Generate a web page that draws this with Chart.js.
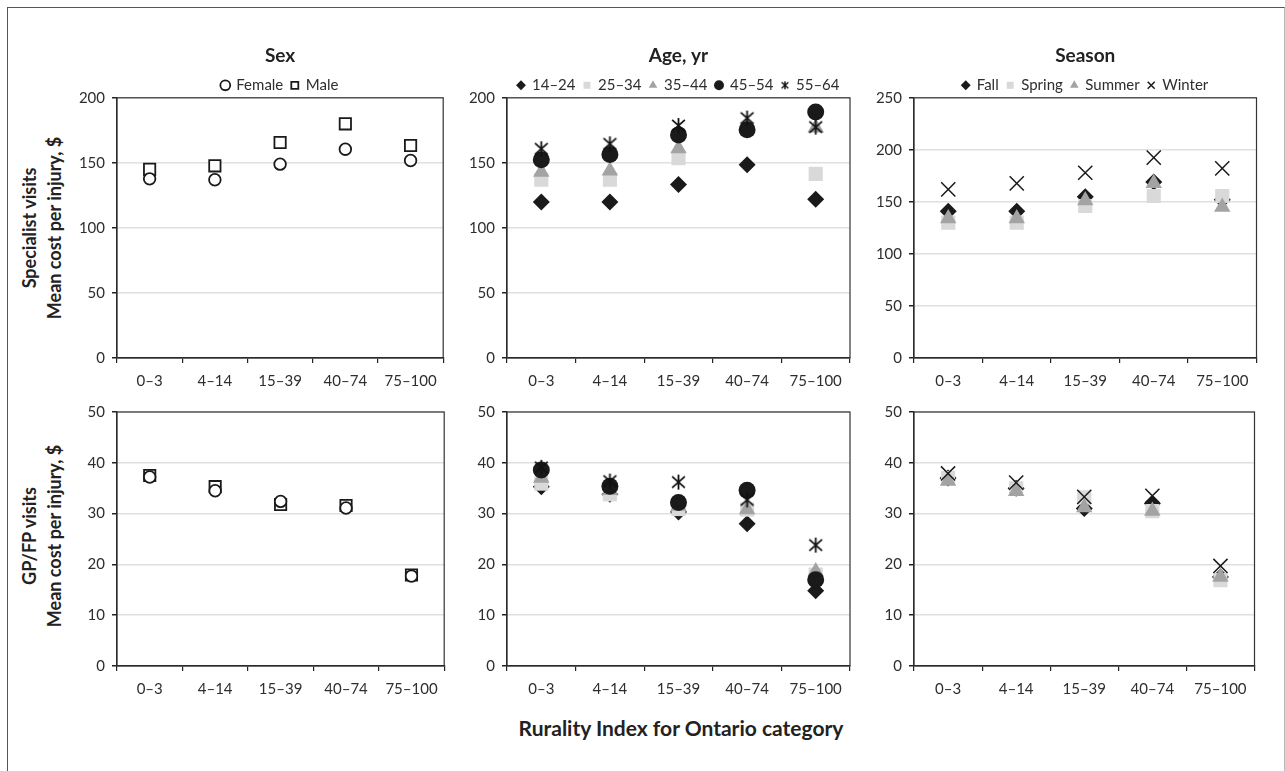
<!DOCTYPE html>
<html><head><meta charset="utf-8">
<script src="https://cdn.jsdelivr.net/npm/chart.js@4.4.0/dist/chart.umd.min.js"></script>
<style>
body{margin:0;background:#fff;width:1285px;height:771px;overflow:hidden;position:relative;font-family:Lato,"Open Sans",sans-serif;}
.frame{position:absolute;left:7px;top:7px;width:1276px;height:800px;border-left:1px solid #555;border-top:1px solid #555;border-right:1px solid #bbb;}
canvas{position:absolute;}
.rowlab{position:absolute;transform:translate(-50%,-50%) rotate(-90deg);white-space:nowrap;font-weight:bold;font-size:18px;color:#222;text-align:center;line-height:25px;}
.xtitle{position:absolute;transform:translate(-50%,-50%);white-space:nowrap;font-weight:bold;font-size:21px;color:#222;}
</style></head>
<body>
<div class="frame"></div>
<div class="rowlab" style="left:42px;top:228px">Specialist visits<br>Mean cost per injury, $</div>
<div class="rowlab" style="left:42px;top:536px">GP/FP visits<br>Mean cost per injury, $</div>
<div class="xtitle" style="left:681px;top:727px">Rurality Index for Ontario category</div>
<script>
// ---------- DATA ----------
const categories = ['0–3','4–14','15–39','40–74','75–100'];
const panelTitles = ['Sex','Age, yr','Season'];
const sexLabels = ['Female','Male'];
const ageLabels = ['14–24','25–34','35–44','45–54','55–64'];
const seasonLabels = ['Fall','Spring','Summer','Winter'];

// Specialist visits, mean cost per injury ($)
const specFemale = [137.7, 137, 149, 160.5, 151.8];
const specMale   = [145, 147.7, 165.6, 180, 163.3];
const specAge1424 = [120, 120, 133.3, 148.5, 122];
const specAge2534 = [137, 137, 153.6, 176, 141.5];
const specAge3544 = [143, 144, 161, 178, 177];
const specAge4554 = [152.3, 156.4, 171.5, 175.4, 189];
const specAge5564 = [160.8, 164.6, 178.7, 184.4, 177.5];
const specFall   = [141, 141, 155, 169, 152];
const specSpring = [130, 130, 146, 155.6, 155.6];
const specSummer = [134, 134, 151.4, 167.8, 145];
const specWinter = [162, 167.8, 178, 192.5, 182.2];

// GP/FP visits, mean cost per injury ($)
const gpFemale = [37.2, 34.5, 32.4, 31.1, 17.7];
const gpMale   = [37.5, 35.3, 31.8, 31.6, 17.9];
const gpAge1424 = [35.3, 33.8, 30.3, 28, 14.8];
const gpAge2534 = [35.9, 33.8, 30.9, 30.8, 18];
const gpAge3544 = [37, 34.6, 31.5, 30.8, 18.6];
const gpAge4554 = [38.6, 35.4, 32.2, 34.6, 17];
const gpAge5564 = [39.1, 36.4, 36.2, 32.7, 23.8];
const gpFall   = [37, 35, 31, 32, 17.5];
const gpSpring = [37, 35, 33.2, 30.5, 16.9];
const gpSummer = [36.4, 34.4, 31.2, 30.5, 17.5];
const gpWinter = [37.9, 36.1, 33.3, 33.5, 19.7];

// y-axis ranges [max, step]
const specAxes = [[200,50],[200,50],[250,50]];
const gpAxes = [[50,10],[50,10],[50,10]];

// ---------- STYLE ----------
const BLACK='#1a1a1a', LIGHT='#d9d9d9', MID='#a3a3a3', TXT='#2e2e2e';
const FONT='Lato, "Open Sans", sans-serif';

function starCanvas(size, lw){
  const c=document.createElement('canvas'); c.width=size; c.height=size;
  const g=c.getContext('2d'); g.strokeStyle='#111'; g.lineWidth=lw; g.lineCap='butt';
  const h=size/2, r=h-1;
  g.beginPath();
  g.moveTo(h-r*0.85,h-r*0.75); g.lineTo(h+r*0.85,h+r*0.75);
  g.moveTo(h+r*0.85,h-r*0.75); g.lineTo(h-r*0.85,h+r*0.75);
  g.moveTo(h,h-r); g.lineTo(h,h+r);
  g.stroke();
  return c;
}
const starBig = starCanvas(17,1.8), starSmall = starCanvas(10,1.4);

const sexStyles = [
  {ps:'circle', r:5.8, bg:'#fff', bc:BLACK, bw:1.8},
  {ps:'rect', r:8, bg:'#fff', bc:BLACK, bw:1.8}
];
const ageStyles = [
  {ps:'rectRot', r:8.5, bg:BLACK, bc:BLACK, bw:0},
  {ps:'rect', r:10, bg:LIGHT, bc:LIGHT, bw:0},
  {ps:'triangle', r:9.5, bg:MID, bc:MID, bw:0},
  {ps:'circle', r:8.5, bg:BLACK, bc:BLACK, bw:0},
  {ps:starBig, r:8, bg:BLACK, bc:BLACK, bw:1.8, legend:starSmall}
];
const seasonStyles = [
  {ps:'rectRot', r:8.5, bg:BLACK, bc:BLACK, bw:0},
  {ps:'rect', r:10, bg:LIGHT, bc:LIGHT, bw:0},
  {ps:'triangle', r:9.5, bg:MID, bc:MID, bw:0},
  {ps:'crossRot', r:10, bg:BLACK, bc:BLACK, bw:1.5}
];

// trim legend box height a little
const LegendEl = Chart.registry.getPlugin('legend')._element;
if (LegendEl){ const f=LegendEl.prototype.fit; LegendEl.prototype.fit=function(){ f.call(this); if(this.height>0) this.height=Math.max(0,this.height-5); }; }

const boxPlugin = { id:'plotbox', afterDraw(chart){ const {ctx, chartArea:a}=chart; ctx.save(); ctx.strokeStyle='#333'; ctx.lineWidth=1.2; ctx.strokeRect(a.left,a.top,a.right-a.left,a.bottom-a.top); ctx.restore(); } };

function buildDatasets(labels, arrays, styles, laterOnTop){
  return labels.map((lab,i)=>{
    const s=styles[i];
    return {
      label: lab, data: arrays[i], showLine:false,
      pointStyle: s.ps, pointRadius: s.r, pointHoverRadius: s.r,
      pointBackgroundColor: s.bg, pointBorderColor: s.bc, pointBorderWidth: s.bw,
      backgroundColor: s.bg, borderColor: s.bc, borderWidth: s.bw,
      order: laterOnTop ? labels.length - i : i,
      legendStyle: s.legend
    };
  });
}

function makePanel(o){
  const cv=document.createElement('canvas');
  const yw=45, xh=40, padTop = o.top ? 0 : 10;
  const w = yw + o.plotW + 3;
  const h = (o.top ? 54 : 10) + 260 + xh;
  cv.width=w; cv.height=h;
  cv.style.left=(o.plotLeft-yw)+'px'; cv.style.top=(o.top ? 44 : 396)+'px';
  cv.style.width=w+'px'; cv.style.height=h+'px';
  document.body.appendChild(cv);
  new Chart(cv.getContext('2d'), {
    type:'line',
    data:{ labels: categories, datasets: o.datasets },
    options:{
      responsive:false, animation:false, devicePixelRatio:1,
      layout:{ padding:{ top:padTop, left:0, right:3, bottom:0 } },
      plugins:{
        tooltip:{enabled:false},
        title:{ display: !!o.top, text: o.title, fullSize:false, color:'#222',
          font:{family:FONT, size:19, weight:'bold'}, padding:{top:0,bottom:3} },
        legend:{ display: !!o.top, fullSize:false, position:'top', align:'center',
          labels:{ usePointStyle:true, boxWidth:7, boxHeight:7, padding:8, color:TXT,
            font:{family:FONT, size:15},
            generateLabels(chart){
              const items = Chart.defaults.plugins.legend.labels.generateLabels(chart);
              items.sort((a,b)=>a.datasetIndex-b.datasetIndex);
              items.forEach(it=>{ const ds=chart.data.datasets[it.datasetIndex]; if(ds.legendStyle) it.pointStyle=ds.legendStyle; });
              return items;
            } } }
      },
      scales:{
        x:{ type:'category', offset:true,
          grid:{ offset:true, drawOnChartArea:false, drawTicks:true, tickLength:5, tickColor:'#222', lineWidth:1.2 },
          border:{ color:'#222', width:1.2 },
          ticks:{ color:TXT, font:{family:FONT, size:15}, padding:9, maxRotation:0, autoSkip:false },
          afterFit(s){ s.height=xh; } },
        y:{ min:0, max:o.ymax,
          grid:{ color:'#e0e0e0', lineWidth:1.5, drawTicks:true, tickLength:5, tickColor:'#222' },
          border:{ color:'#222', width:1.2 },
          ticks:{ stepSize:o.ystep, color:TXT, font:{family:FONT, size:15}, padding:7 },
          afterFit(s){ s.width=yw; } }
      }
    },
    plugins:[boxPlugin]
  });
}

const plotLefts=[117,507,914];
const plotWidthsTop=[333,350,351];
const plotWidthsBot=[334,350,349];

const topSets=[
  buildDatasets(sexLabels,[specFemale,specMale],sexStyles,false),
  buildDatasets(ageLabels,[specAge1424,specAge2534,specAge3544,specAge4554,specAge5564],ageStyles,true),
  buildDatasets(seasonLabels,[specFall,specSpring,specSummer,specWinter],seasonStyles,true)
];
const botSets=[
  buildDatasets(sexLabels,[gpFemale,gpMale],sexStyles,false),
  buildDatasets(ageLabels,[gpAge1424,gpAge2534,gpAge3544,gpAge4554,gpAge5564],ageStyles,true),
  buildDatasets(seasonLabels,[gpFall,gpSpring,gpSummer,gpWinter],seasonStyles,true)
];
for(let i=0;i<3;i++){
  makePanel({top:true, title:panelTitles[i], plotLeft:plotLefts[i], plotW:plotWidthsTop[i], ymax:specAxes[i][0], ystep:specAxes[i][1], datasets:topSets[i]});
  makePanel({top:false, plotLeft:plotLefts[i], plotW:plotWidthsBot[i], ymax:gpAxes[i][0], ystep:gpAxes[i][1], datasets:botSets[i]});
}
</script>
</body></html>
